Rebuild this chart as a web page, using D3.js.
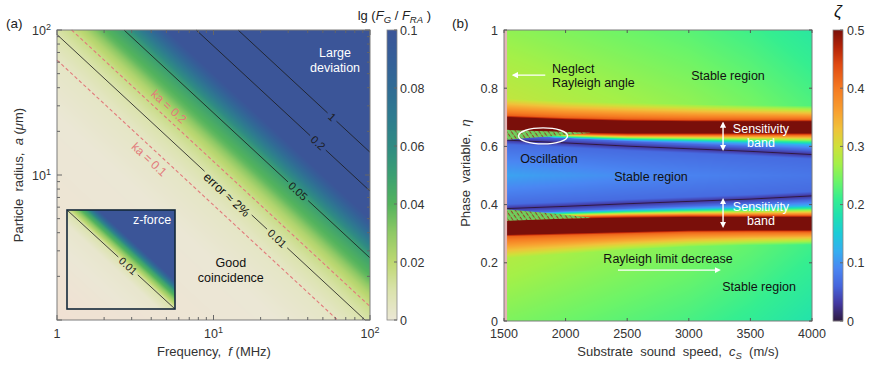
<!DOCTYPE html>
<html>
<head>
<meta charset="utf-8">
<script src="https://cdn.jsdelivr.net/npm/d3@7"></script>
<style>
  body { margin: 0; background: #fff; }
  svg { font-family: "Liberation Sans", Arial, Helvetica, sans-serif; }
  .pre { white-space: pre; }
</style>
</head>
<body>
<svg id="chart" width="869" height="366"></svg>
<script>
// ---------------- panel (a) data ----------------
// lg(F_G/F_RA) depends only on the product f·a (MHz·µm), read along the diagonal
const faProduct = [1, 25, 62, 93, 124, 150, 190, 268, 500, 775, 1435, 10000];
const deviation = [-0.004, 0, 0.004, 0.01, 0.016, 0.023, 0.037, 0.05, 0.1, 0.2, 1, 3];
const contourLevels = ["0.01", "0.05", "0.2", "1"];
const contourFa = [93, 268, 775, 1435];
const contourLabelFreq = [25.5, 34.7, 46.5, 57.2];
const kaLabels = ["ka = 0.1", "ka = 0.2"];
const kaFa = [62, 124];
const kaLabelFreq = [4.3, 4.7];
const freqTickLabels = [1, 10, 100];
const radiusTickLabels = [10, 100];
const devBarTicks = [0, 0.02, 0.04, 0.06, 0.08, 0.1];
// inset (z-force)
const insetFa = [1, 50, 100, 150, 220, 300, 380, 10000];
const insetDeviation = [-0.004, 0.002, 0.01, 0.03, 0.05, 0.08, 0.1, 1];
const insetContourFa = 100;

// ---------------- panel (b) data ----------------
const csKnots        = [1500, 2000, 2500, 3000, 3500, 4000];
const topZeta        = [0.26, 0.25, 0.24, 0.23, 0.215, 0.195];
const bottomZeta     = [0.25, 0.24, 0.23, 0.22, 0.205, 0.185];
const centerZeta     = [0.112, 0.103, 0.094, 0.087, 0.081, 0.076];
const haloUpper      = [0.765, 0.755, 0.75, 0.745, 0.742, 0.74];
const redUpperTop    = [0.700, 0.692, 0.687, 0.685, 0.685, 0.685];
const redUpperBottom = [0.656, 0.650, 0.646, 0.646, 0.646, 0.646];
const darkUpper      = [0.622, 0.612, 0.601, 0.592, 0.583, 0.572];
const darkLower      = [0.386, 0.394, 0.403, 0.411, 0.419, 0.430];
const redLowerTop    = [0.344, 0.350, 0.354, 0.356, 0.356, 0.356];
const redLowerBottom = [0.297, 0.302, 0.307, 0.312, 0.313, 0.313];
const haloLower      = [0.215, 0.23, 0.245, 0.255, 0.26, 0.262];
const oscCs          = [1500, 1850, 2200];
const oscUpperTop    = [0.657, 0.652, 0.647];
const oscUpperBottom = [0.622, 0.634, 0.646];
const oscLowerTop    = [0.384, 0.371, 0.356];
const oscLowerBottom = [0.344, 0.350, 0.354];
const neglectCs = [1500, 1525];
const csTicks = [1500, 2000, 2500, 3000, 3500, 4000];
const etaTicks = [0, 0.2, 0.4, 0.6, 0.8, 1];
const zetaBarTicks = [0, 0.1, 0.2, 0.3, 0.4, 0.5];

// colour maps
const devColor = d3.scaleLinear()
  .domain([-0.004, 0, 0.01, 0.02, 0.03, 0.04, 0.05, 0.06, 0.07, 0.08, 0.09, 0.1])
  .range(['#f0e1d3', '#ebe7d5', '#dbe3ad', '#bdd872', '#8fc965', '#53b35d', '#3b9f72',
          '#2f8b83', '#2e7b8f', '#306c95', '#355f98', '#3b5598'])
  .clamp(true);
const zetaColor = d3.scaleLinear()
  .domain([0, 0.03, 0.06, 0.09, 0.12, 0.15, 0.18, 0.21, 0.24, 0.27, 0.30, 0.33, 0.36, 0.40, 0.44, 0.47, 0.5])
  .range(['#2e1a40', '#4338a0', '#4665dc', '#4a86f2', '#35aef0', '#1ccbd8', '#1fe0b0', '#35ee90',
          '#6cf468', '#a4f048', '#cfe03a', '#f0c23a', '#f8a030', '#f57a22', '#e04a12', '#b42408', '#7a0f0a'])
  .clamp(true);

const svg = d3.select('#chart');
const defs = svg.append('defs');

defs.append('marker').attr('id', 'arrow')
  .attr('viewBox', '0 0 10 10').attr('refX', 7).attr('refY', 5)
  .attr('markerWidth', 4.5).attr('markerHeight', 4.5)
  .attr('orient', 'auto-start-reverse')
  .append('path').attr('d', 'M0,0 L10,5 L0,10 z').attr('fill', '#fff');

const pat = defs.append('pattern').attr('id', 'osc')
  .attr('patternUnits', 'userSpaceOnUse').attr('width', 3.8).attr('height', 5)
  .attr('patternTransform', 'rotate(-35)');
pat.append('rect').attr('width', 3.8).attr('height', 5).attr('fill', '#6fd05e');
pat.append('line').attr('x1', 1.3).attr('x2', 1.3).attr('y1', 0.8).attr('y2', 4.6)
  .attr('stroke', '#9a2416').attr('stroke-width', 0.9);

function rasterImage(g, x, y, w, h, colorAt) {
  const cv = document.createElement('canvas');
  cv.width = w; cv.height = h;
  const ctx = cv.getContext('2d');
  const img = ctx.createImageData(w, h);
  for (let i = 0; i < w; i++) {
    for (let j = 0; j < h; j++) {
      const c = d3.rgb(colorAt(x + i + 0.5, y + j + 0.5));
      const k = 4 * (j * w + i);
      img.data[k] = c.r; img.data[k + 1] = c.g; img.data[k + 2] = c.b; img.data[k + 3] = 255;
    }
  }
  ctx.putImageData(img, 0, 0);
  g.append('image').attr('x', x).attr('y', y).attr('width', w).attr('height', h)
    .attr('preserveAspectRatio', 'none').attr('href', cv.toDataURL());
}

// draws the straight line f·a = P with text labels sitting on it
function contour(g, xs, ys, P, labels, style) {
  const [d0, d1] = xs.domain(), [r0, r1] = ys.domain();
  const fS = Math.max(d0, P / r1), fE = Math.min(d1, P / r0);
  const p0 = [xs(fS), ys(P / fS)], p1 = [xs(fE), ys(P / fE)];
  const len = Math.hypot(p1[0] - p0[0], p1[1] - p0[1]);
  const ux = (p1[0] - p0[0]) / len, uy = (p1[1] - p0[1]) / len;
  const ang = Math.atan2(uy, ux) * 180 / Math.PI;
  const gaps = [];
  labels.forEach(l => {
    const px = xs(l.f), py = ys(P / l.f);
    const t = (px - p0[0]) * ux + (py - p0[1]) * uy;
    const txt = g.append('text')
      .attr('transform', `translate(${px},${py}) rotate(${ang}) translate(0,${l.dy || 0})`)
      .attr('text-anchor', 'middle').attr('dy', '0.35em')
      .attr('font-size', l.size || 11).attr('fill', l.color || '#1a1a1a')
      .text(l.text);
    if (l.gap) {
      const w = txt.node().getComputedTextLength();
      gaps.push([t - w / 2 - 3, t + w / 2 + 3]);
    }
  });
  gaps.sort((a, b) => a[0] - b[0]);
  const segs = [];
  let s = 0;
  gaps.forEach(([a, b]) => { if (a > s) segs.push([s, a]); s = Math.max(s, b); });
  if (s < len) segs.push([s, len]);
  segs.forEach(([a, b]) => {
    g.insert('line', 'text')
      .attr('x1', p0[0] + ux * a).attr('y1', p0[1] + uy * a)
      .attr('x2', p0[0] + ux * b).attr('y2', p0[1] + uy * b)
      .attr('stroke', style.stroke).attr('stroke-width', style.width)
      .attr('stroke-dasharray', style.dash || null);
  });
}

function powLabel(sel, v) {
  const e = Math.round(Math.log10(v));
  if (e === 0) { sel.text('1'); return; }
  sel.append('tspan').text('10');
  sel.append('tspan').attr('dy', -5).attr('font-size', 9).text(e);
}

// ======================= panel (a) =======================
const A = { x0: 57, x1: 370, y0: 30, y1: 320 };
const xA = d3.scaleLog().domain([1, 100]).range([A.x0, A.x1]);
const yA = d3.scaleLog().domain([1, 100]).range([A.y1, A.y0]);
const devScale = d3.scaleLog().domain(faProduct).range(deviation).clamp(true);

const gA = svg.append('g');
rasterImage(gA, A.x0, A.y0, A.x1 - A.x0, A.y1 - A.y0,
  (px, py) => devColor(devScale(xA.invert(px) * yA.invert(py))));

const gC = gA.append('g');
kaFa.forEach((P, i) => {
  contour(gC, xA, yA, P,
    [{ f: kaLabelFreq[i], text: kaLabels[i], dy: i === 0 ? 10 : -10, size: 12, color: '#e27a7a' }],
    { stroke: '#e27a7a', width: 1.1, dash: '3.5,2.5' });
});
contourFa.forEach((P, i) => {
  const labels = [{ f: contourLabelFreq[i], text: contourLevels[i], gap: true, size: 11 }];
  if (i === 0) labels.push({ f: 12.4, text: 'error \u2248 2%', gap: true, size: 12.5, dy: 2, color: '#111' });
  contour(gC, xA, yA, P, labels, { stroke: '#1a1a1a', width: 0.8 });
});

// frame + ticks
gA.append('rect').attr('x', A.x0).attr('y', A.y0).attr('width', A.x1 - A.x0).attr('height', A.y1 - A.y0)
  .attr('fill', 'none').attr('stroke', '#7d7d7d').attr('stroke-width', 1);
const isMajor = v => Math.abs(Math.log10(v) - Math.round(Math.log10(v))) < 1e-9;
xA.ticks().forEach(v => {
  const L = isMajor(v) ? 5 : 3, x = xA(v);
  gA.append('line').attr('x1', x).attr('x2', x).attr('y1', A.y1).attr('y2', A.y1 - L).attr('stroke', '#666');
  gA.append('line').attr('x1', x).attr('x2', x).attr('y1', A.y0).attr('y2', A.y0 + L).attr('stroke', '#666');
});
yA.ticks().forEach(v => {
  const L = isMajor(v) ? 5 : 3, y = yA(v);
  gA.append('line').attr('x1', A.x0).attr('x2', A.x0 + L).attr('y1', y).attr('y2', y).attr('stroke', '#666');
  gA.append('line').attr('x1', A.x1).attr('x2', A.x1 - L).attr('y1', y).attr('y2', y).attr('stroke', '#666');
});
freqTickLabels.forEach(v => {
  gA.append('text').attr('x', xA(v)).attr('y', 338).attr('text-anchor', 'middle')
    .attr('font-size', 12.5).attr('fill', '#333').call(powLabel, v);
});
radiusTickLabels.forEach(v => {
  gA.append('text').attr('x', 51).attr('y', yA(v) + 5).attr('text-anchor', 'end')
    .attr('font-size', 12.5).attr('fill', '#333').call(powLabel, v);
});

// annotations
const lg = gA.append('g').attr('font-size', 12.5).attr('text-anchor', 'middle');
lg.append('text').attr('x', xA(59.8)).attr('y', yA(62) - 3.5).attr('fill', '#fff').text('Large');
lg.append('text').attr('x', xA(59.8)).attr('y', yA(62) + 11.5).attr('fill', '#fff').text('deviation');
lg.append('text').attr('x', xA(12.9)).attr('y', yA(2.2) - 3).attr('fill', '#111').text('Good');
lg.append('text').attr('x', xA(12.9)).attr('y', yA(2.2) + 12).attr('fill', '#111').text('coincidence');

// inset
const I = { x0: 67, x1: 175, y0: 210, y1: 309 };
const xI = d3.scaleLog().domain([1, 100]).range([I.x0, I.x1]);
const yI = d3.scaleLog().domain([1, 100]).range([I.y1, I.y0]);
const insetScale = d3.scaleLog().domain(insetFa).range(insetDeviation).clamp(true);
const gI = svg.append('g');
rasterImage(gI, I.x0, I.y0, I.x1 - I.x0, I.y1 - I.y0,
  (px, py) => devColor(insetScale(xI.invert(px) * yI.invert(py))));
contour(gI.append('g'), xI, yI, insetContourFa,
  [{ f: 13.5, text: '0.01', gap: true, size: 10.5 }], { stroke: '#1a1a1a', width: 0.8 });
gI.append('text').attr('x', xI(37.5)).attr('y', yI(63) + 4.5).attr('text-anchor', 'middle')
  .attr('font-size', 12.5).attr('fill', '#fff').text('z-force');
gI.append('rect').attr('x', I.x0).attr('y', I.y0).attr('width', I.x1 - I.x0).attr('height', I.y1 - I.y0)
  .attr('fill', 'none').attr('stroke', '#14283a').attr('stroke-width', 1.6);

// colour bar (a)
const cbA = d3.scaleLinear().domain([0, 0.1]).range([A.y1, A.y0]);
const gBarA = svg.append('g');
d3.range(A.y0, A.y1).forEach(y => {
  gBarA.append('rect').attr('x', 387).attr('y', y).attr('width', 10).attr('height', 1.2)
    .attr('fill', devColor(cbA.invert(y + 0.5)));
});
gBarA.append('rect').attr('x', 387).attr('y', A.y0).attr('width', 10).attr('height', A.y1 - A.y0)
  .attr('fill', 'none').attr('stroke', '#888').attr('stroke-width', 0.8);
devBarTicks.forEach(v => {
  gBarA.append('line').attr('x1', 394).attr('x2', 397).attr('y1', cbA(v)).attr('y2', cbA(v)).attr('stroke', '#666');
  gBarA.append('text').attr('x', 400).attr('y', cbA(v) + 4.5).attr('font-size', 12.5).attr('fill', '#333').text(v);
});
const tA = svg.append('text').attr('x', 431).attr('y', 20).attr('text-anchor', 'end').attr('font-size', 13).attr('fill', '#222');
tA.append('tspan').text('lg (');
tA.append('tspan').attr('font-style', 'italic').text('F');
tA.append('tspan').attr('font-style', 'italic').attr('font-size', 9.5).attr('dy', 3).text('G');
tA.append('tspan').attr('dy', -3).text(' / ');
tA.append('tspan').attr('font-style', 'italic').text('F');
tA.append('tspan').attr('font-style', 'italic').attr('font-size', 9.5).attr('dy', 3).text('RA');
tA.append('tspan').attr('dy', -3).text(' )');

// axis titles (a)
const xtA = svg.append('text').attr('class', 'pre').attr('x', 214).attr('y', 356).attr('text-anchor', 'middle')
  .attr('font-size', 13).attr('fill', '#333');
xtA.append('tspan').text('Frequency,  ');
xtA.append('tspan').attr('font-style', 'italic').text('f ');
xtA.append('tspan').text('(MHz)');
const ytA = svg.append('text').attr('class', 'pre').attr('transform', 'translate(23,175) rotate(-90)')
  .attr('text-anchor', 'middle').attr('font-size', 13).attr('fill', '#333');
ytA.append('tspan').text('Particle  radius,  ');
ytA.append('tspan').attr('font-style', 'italic').text('a');
ytA.append('tspan').text(' (');
ytA.append('tspan').attr('font-style', 'italic').text('\u03bc');
ytA.append('tspan').text('m)');
svg.append('text').attr('x', 6).attr('y', 28).attr('font-size', 13.5).attr('fill', '#222').text('(a)');

// ======================= panel (b) =======================
const B = { x0: 504, x1: 812, y0: 30, y1: 321 };
const xB = d3.scaleLinear().domain([1500, 4000]).range([B.x0, B.x1]);
const yB = d3.scaleLinear().domain([0, 1]).range([B.y1, B.y0]);

const feat = arr => d3.scaleLinear().domain(csKnots).range(arr);
const F = {
  top: feat(topZeta), bot: feat(bottomZeta), mid: feat(centerZeta),
  hU: feat(haloUpper), rUT: feat(redUpperTop), rUB: feat(redUpperBottom), dU: feat(darkUpper),
  dL: feat(darkLower), rLT: feat(redLowerTop), rLB: feat(redLowerBottom), hL: feat(haloLower)
};
// shape of the profile around the bands
const rampWidth = 0.042, rampZeta = 0.12, edgeW = 0.007, edgeZeta = 0.42;
const dipNear = [0.0035, 0.035], dipFar = [0.016, 0.066], haloRise = 0.03;
function zetaProfile(cs) {
  const v = k => F[k](cs);
  const rU = Math.min(rampWidth, 0.55 * (v('rUB') - v('dU')));
  const rL = Math.min(rampWidth, 0.55 * (v('dL') - v('rLT')));
  const k = [
    [0, v('bot')], [v('hL'), v('bot') + haloRise], [v('rLB') - edgeW, edgeZeta], [v('rLB'), 0.5],
    [v('rLT'), 0.5], [v('rLT') + Math.min(edgeW, rL / 3), edgeZeta],
    [v('rLT') + rL, rampZeta], [v('dL') - dipFar[0], dipFar[1]], [v('dL') - dipNear[0], dipNear[1]], [v('dL'), 0],
    [v('dL') + dipNear[0], dipNear[1]], [v('dL') + dipFar[0], dipFar[1]], [0.5, v('mid')],
    [v('dU') - dipFar[0], dipFar[1]], [v('dU') - dipNear[0], dipNear[1]], [v('dU'), 0],
    [v('dU') + dipNear[0], dipNear[1]], [v('dU') + dipFar[0], dipFar[1]],
    [v('rUB') - rU, rampZeta], [v('rUB') - Math.min(edgeW, rU / 3), edgeZeta], [v('rUB'), 0.5],
    [v('rUT'), 0.5], [v('rUT') + edgeW, edgeZeta], [v('hU'), v('top') + haloRise], [1, v('top')]
  ];
  return d3.scaleLinear().domain(k.map(d => d[0])).range(k.map(d => d[1]));
}
let lastX = null, prof = null;
const gB = svg.append('g');
rasterImage(gB, B.x0, B.y0, B.x1 - B.x0, B.y1 - B.y0, (px, py) => {
  if (px !== lastX) { prof = zetaProfile(xB.invert(px)); lastX = px; }
  return zetaColor(prof(yB.invert(py)));
});

// oscillation wedges
const wedge = (top, bot) => d3.area().curve(d3.curveMonotoneX)
  .x((d, i) => xB(oscCs[i])).y0((d, i) => yB(bot[i])).y1((d, i) => yB(top[i]))(oscCs);
gB.append('path').attr('d', wedge(oscUpperTop, oscUpperBottom)).attr('fill', 'url(#osc)');
gB.append('path').attr('d', wedge(oscLowerTop, oscLowerBottom)).attr('fill', 'url(#osc)');

// neglected Rayleigh-angle strip
gB.append('rect').attr('x', xB(neglectCs[0])).attr('y', B.y0)
  .attr('width', xB(neglectCs[1]) - xB(neglectCs[0])).attr('height', B.y1 - B.y0).attr('fill', '#e3b6b6');

gB.append('rect').attr('x', B.x0).attr('y', B.y0).attr('width', B.x1 - B.x0).attr('height', B.y1 - B.y0)
  .attr('fill', 'none').attr('stroke', '#7d7d7d').attr('stroke-width', 1);
csTicks.forEach(v => {
  gB.append('line').attr('x1', xB(v)).attr('x2', xB(v)).attr('y1', B.y1).attr('y2', B.y1 - 3).attr('stroke', '#555');
  gB.append('line').attr('x1', xB(v)).attr('x2', xB(v)).attr('y1', B.y0).attr('y2', B.y0 + 3).attr('stroke', '#555');
  gB.append('text').attr('x', xB(v)).attr('y', 338).attr('text-anchor', 'middle')
    .attr('font-size', 12.5).attr('fill', '#333').text(v);
});
etaTicks.forEach(v => {
  gB.append('line').attr('x1', B.x0).attr('x2', B.x0 + 3).attr('y1', yB(v)).attr('y2', yB(v)).attr('stroke', '#555');
  gB.append('line').attr('x1', B.x1).attr('x2', B.x1 - 3).attr('y1', yB(v)).attr('y2', yB(v)).attr('stroke', '#555');
  gB.append('text').attr('x', 498).attr('y', yB(v) + 4.5).attr('text-anchor', 'end')
    .attr('font-size', 12.5).attr('fill', '#333').text(v);
});

// annotations (b)
const an = gB.append('g').attr('font-size', 12.5);
const arrow = (c0, e0, c1, e1, both) => an.append('line')
  .attr('x1', xB(c0)).attr('y1', yB(e0)).attr('x2', xB(c1)).attr('y2', yB(e1))
  .attr('stroke', '#fff').attr('stroke-width', 1.4)
  .attr('marker-end', 'url(#arrow)').attr('marker-start', both ? 'url(#arrow)' : null);
arrow(1835, 0.845, 1578, 0.845);
arrow(3278, 0.591, 3278, 0.679, true);
arrow(3278, 0.326, 3278, 0.416, true);
arrow(2425, 0.175, 3245, 0.175);
an.append('ellipse').attr('cx', xB(1817)).attr('cy', yB(0.636)).attr('rx', 24.5).attr('ry', 8)
  .attr('fill', 'none').attr('stroke', '#fff').attr('stroke-width', 1.4);
const note = (cs, eta, txt, fill, anchor) => an.append('text').attr('x', xB(cs)).attr('y', yB(eta) + 4.5)
  .attr('text-anchor', anchor || 'middle').attr('fill', fill).text(txt);
note(1890, 0.869, 'Neglect', '#111', 'start');
note(1890, 0.818, 'Rayleigh angle', '#111', 'start');
note(3318, 0.845, 'Stable region', '#111');
note(1865, 0.557, 'Oscillation', '#111');
note(2693, 0.498, 'Stable region', '#111');
note(3586, 0.663, 'Sensitivity', '#fff');
note(3586, 0.612, 'band', '#fff');
note(3586, 0.395, 'Sensitivity', '#fff');
note(3586, 0.347, 'band', '#fff');
note(2831, 0.216, 'Rayleigh limit decrease', '#111');
note(3570, 0.117, 'Stable region', '#111');

// colour bar (b)
const cbB = d3.scaleLinear().domain([0, 0.5]).range([B.y1, B.y0]);
const gBarB = svg.append('g');
d3.range(B.y0, B.y1).forEach(y => {
  gBarB.append('rect').attr('x', 833).attr('y', y).attr('width', 10).attr('height', 1.2)
    .attr('fill', zetaColor(cbB.invert(y + 0.5)));
});
gBarB.append('rect').attr('x', 833).attr('y', B.y0).attr('width', 10).attr('height', B.y1 - B.y0)
  .attr('fill', 'none').attr('stroke', '#888').attr('stroke-width', 0.8);
zetaBarTicks.forEach(v => {
  gBarB.append('line').attr('x1', 840).attr('x2', 843).attr('y1', cbB(v)).attr('y2', cbB(v)).attr('stroke', '#666');
  gBarB.append('text').attr('x', 847).attr('y', cbB(v) + 4.5).attr('font-size', 12.5).attr('fill', '#333').text(v);
});
svg.append('text').attr('x', 838).attr('y', 17).attr('text-anchor', 'middle').attr('font-size', 17)
  .attr('font-style', 'italic').attr('fill', '#111').text('\u03b6');

// axis titles (b)
const xtB = svg.append('text').attr('class', 'pre').attr('x', 678).attr('y', 356).attr('text-anchor', 'middle')
  .attr('font-size', 13).attr('fill', '#333');
xtB.append('tspan').text('Substrate  sound  speed,  ');
xtB.append('tspan').attr('font-style', 'italic').text('c');
xtB.append('tspan').attr('font-style', 'italic').attr('font-size', 9.5).attr('dy', 3).text('S');
xtB.append('tspan').attr('dy', -3).text('  (m/s)');
const ytB = svg.append('text').attr('class', 'pre').attr('transform', 'translate(470,173) rotate(-90)')
  .attr('text-anchor', 'middle').attr('font-size', 13).attr('fill', '#333');
ytB.append('tspan').text('Phase  variable,  ');
ytB.append('tspan').attr('font-style', 'italic').text('\u03b7');
svg.append('text').attr('x', 452).attr('y', 28).attr('font-size', 13.5).attr('fill', '#222').text('(b)');
</script>
</body>
</html>
